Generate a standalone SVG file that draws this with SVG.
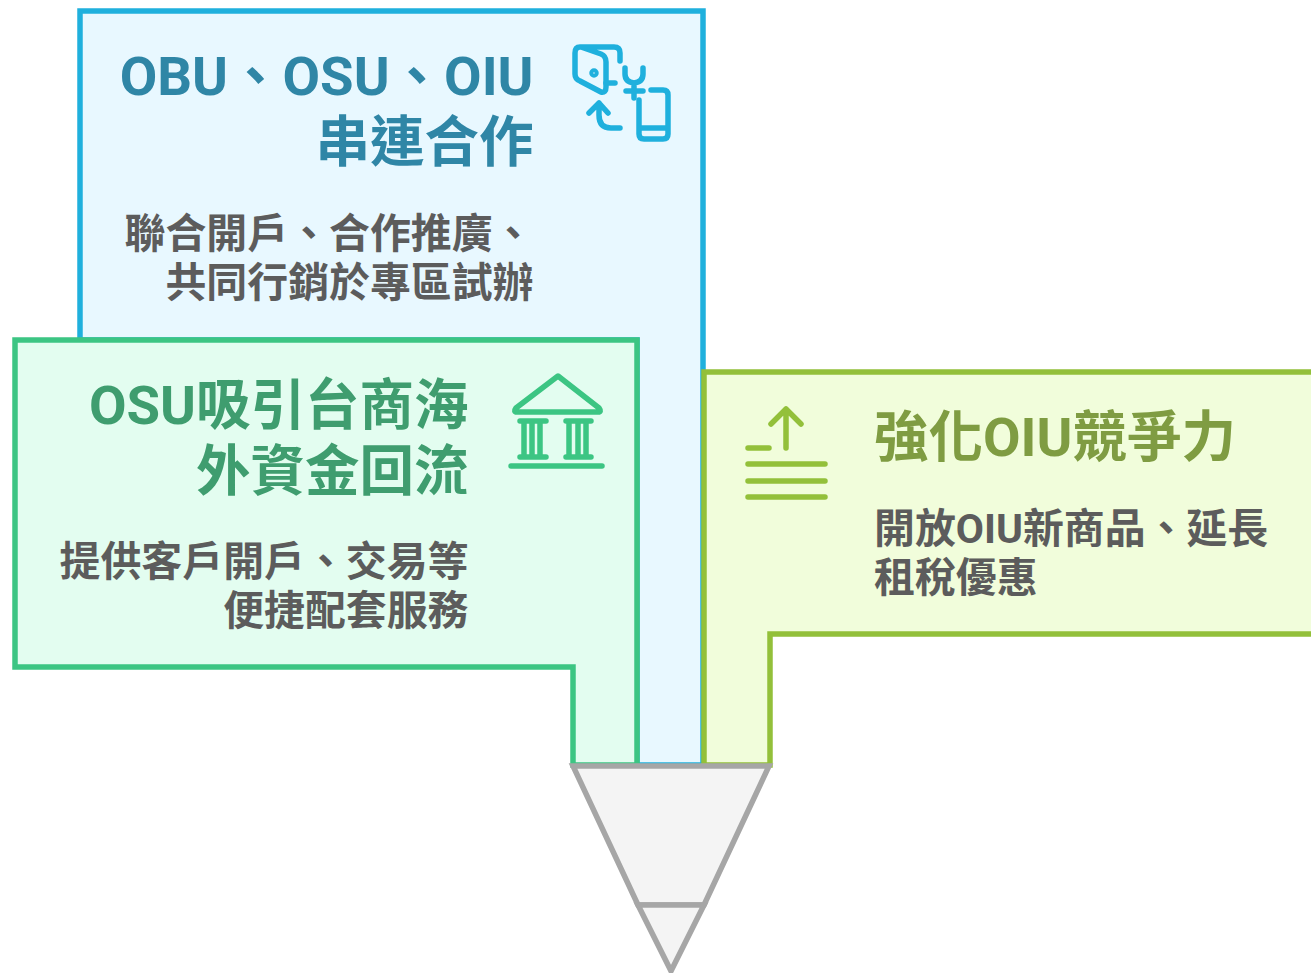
<svg xmlns="http://www.w3.org/2000/svg" width="1311" height="973" viewBox="0 0 1311 973">
<style>
text{font-family:Roboto,"Noto Sans CJK TC",sans-serif;font-weight:700}
.t{font-size:54.5px}.b{font-size:40.9px;fill:#5c5c5c}
.e{text-anchor:end}
.box{stroke-width:5.5}
.ic{fill:none;stroke-width:5.5;stroke-linecap:round;stroke-linejoin:round}
</style>
<rect width="1311" height="973" fill="#fff"/>
<g id="node-blue">
<path class="box" d="M80 11H703V765H637V340H80Z" fill="#e8f8ff" stroke="#1fb0dd"/>
<text class="t e" x="533.5" y="95" fill="#2f86a6">OBU、OSU、OIU</text>
<text class="t e" x="533.5" y="161" fill="#2f86a6">串連合作</text>
<text class="b e" x="533.5" y="248">聯合開戶、合作推廣、</text>
<text class="b e" x="533.5" y="297">共同行銷於專區試辦</text>
<g class="ic" stroke="#1fb0dd">
<path d="M620 61V53Q620 47 614 47H580Q575 47 575 53V74Q575 79 580 81L601 92Q606 93 606 87V62Q606 56 601 54L581 47"/>
<path d="M606 83H615"/>
<circle cx="594" cy="73" r="2"/>
<path d="M625 68V74Q625 82 634 83Q643 82 643 74V68M634 83V98M626 91H643"/>
<path d="M651 90H663Q668 90 668 95V134Q668 139 663 139H644Q639 139 639 134V100M639 128H668"/>
<path d="M589 113L599 103L608 113M599 103V115Q599 128 611 128H620"/>
</g>
</g>
<g id="node-green">
<path class="box" d="M15 340H637V765H573V667H15Z" fill="#e3fdf0" stroke="#3cc583"/>
<text class="t e" x="468.5" y="424" fill="#3f9d6f">OSU吸引台商海</text>
<text class="t e" x="468.5" y="490" fill="#3f9d6f">外資金回流</text>
<text class="b e" x="468.5" y="576">提供客戶開戶、交易等</text>
<text class="b e" x="468.5" y="625">便捷配套服務</text>
<g class="ic" stroke="#3cc583">
<path d="M558 376L599 408Q602 412 598 412H517Q513 412 516 408Z"/>
<path d="M520 421H546M520 457H546M524 421V457M532 421V457M540 421V457"/>
<path d="M566 421H591M566 457H591M569 421V457M578 421V457M586 421V457"/>
<path d="M511 466H602"/>
</g>
</g>
<g id="node-lime">
<path class="box" d="M1314 372H704V765H770V634H1314" fill="#f1fddb" stroke="#93c03a"/>
<text class="t" x="874" y="456" fill="#7f9c42">強化OIU競爭力</text>
<text class="b" x="874" y="543">開放OIU新商品、延長</text>
<text class="b" x="874" y="592">租稅優惠</text>
<g class="ic" stroke="#93c03a">
<path d="M786 448V409M771 424L786 409L801 424"/>
<path d="M748 448H769M748 464H825M748 481H825M748 497H825"/>
</g>
</g>
<g id="node-funnel" fill="#f4f4f4" stroke="#a6a6a6" stroke-width="5.5" stroke-linejoin="miter">
<path d="M573 766H769L704 905H638Z"/>
<path d="M638 905H704L671 971Z"/>
</g>
<g id="connectors"/>
</svg>
